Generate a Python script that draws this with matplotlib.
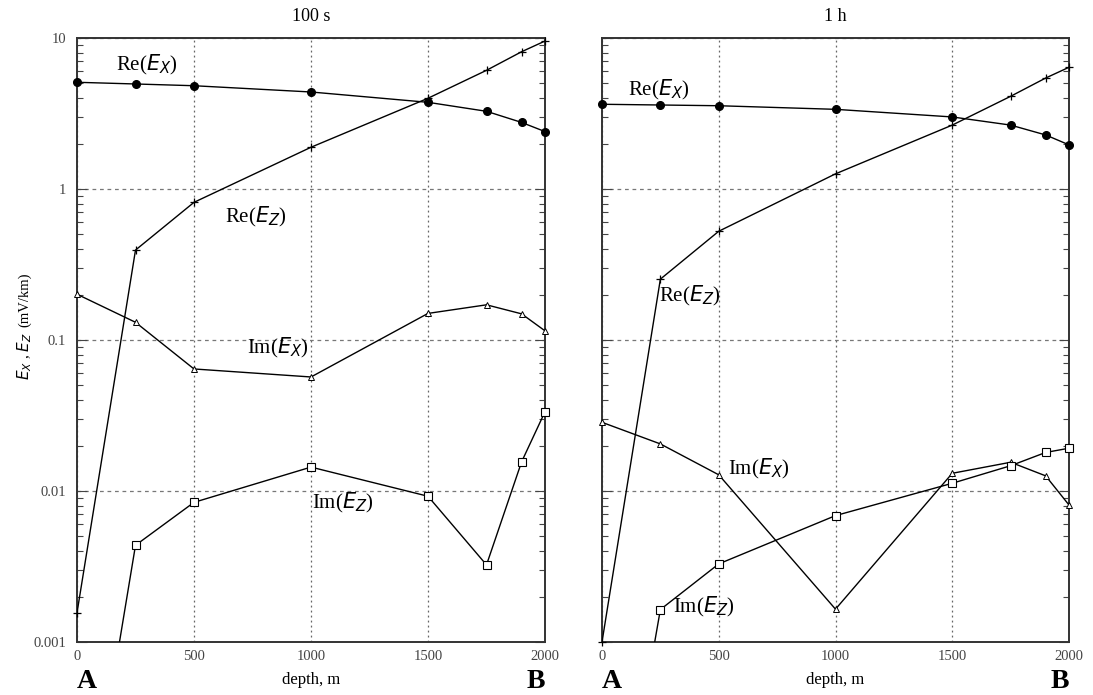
import matplotlib
matplotlib.use("Agg")
import matplotlib.pyplot as plt
from matplotlib.ticker import LogLocator, NullFormatter, FixedLocator, FixedFormatter

plt.rcParams['font.family'] = ['Liberation Serif', 'DejaVu Serif']
plt.rcParams['mathtext.fontset'] = 'dejavusans'

# ---- data ----
depth = [0, 250, 500, 1000, 1500, 1750, 1900, 2000]

# 100 s panel
re_ex_100 = [5.09, 4.96, 4.83, 4.39, 3.75, 3.27, 2.76, 2.40]
re_ez_100 = [0.00156, 0.394, 0.816, 1.89, 3.99, 6.11, 8.11, 9.55]
im_ex_100 = [0.201, 0.131, 0.0643, 0.0569, 0.150, 0.171, 0.149, 0.115]
im_ez_100 = [2e-5, 0.00437, 0.00841, 0.0144, 0.00923, 0.00324, 0.0156, 0.0335]

# 1 h panel
re_ex_1h = [3.64, 3.60, 3.56, 3.37, 3.00, 2.65, 2.28, 1.96]
re_ez_1h = [0.001, 0.253, 0.525, 1.26, 2.65, 4.11, 5.43, 6.40]
im_ex_1h = [0.0285, 0.0205, 0.0128, 0.00165, 0.0131, 0.0155, 0.0126, 0.00808]
im_ez_1h = [1e-5, 0.00164, 0.00329, 0.00687, 0.01125, 0.0147, 0.0180, 0.0192]

xticks = [0, 500, 1000, 1500, 2000]
xtick_labels = ['0', '500', '1000', '1500', '2000']
yticks = [0.001, 0.01, 0.1, 1, 10]
ytick_labels = ['0.001', '0.01', '0.1', '1', '10']

titles = ['100 s', '1 h']

fig = plt.figure(figsize=(10.93, 6.95), dpi=100)
ax1 = fig.add_axes([77/1093, 1-642/695, 468/1093, 604/695])
ax2 = fig.add_axes([602/1093, 1-642/695, 467/1093, 604/695])

def style(ax, show_ylabels):
    ax.set_yscale('log')
    ax.set_xlim(0, 2000)
    ax.set_ylim(0.001, 10)
    ax.xaxis.set_major_locator(FixedLocator(xticks))
    ax.xaxis.set_major_formatter(FixedFormatter(xtick_labels))
    ax.yaxis.set_major_locator(FixedLocator(yticks))
    if show_ylabels:
        ax.yaxis.set_major_formatter(FixedFormatter(ytick_labels))
    else:
        ax.yaxis.set_major_formatter(NullFormatter())
    ax.yaxis.set_minor_locator(LogLocator(base=10, subs=range(2, 10), numticks=20))
    ax.yaxis.set_minor_formatter(NullFormatter())
    ax.tick_params(axis='y', which='both', direction='in', left=True, right=True,
                   colors='#444444', labelsize=10.5, width=0.8, pad=8)
    ax.tick_params(axis='y', which='major', length=7)
    ax.tick_params(axis='y', which='minor', length=4)
    ax.tick_params(axis='x', which='both', length=0, labelsize=10.5,
                   colors='#444444', pad=6)
    for sp in ax.spines.values():
        sp.set_color('#333333')
        sp.set_linewidth(1.4)
    ax.xaxis.grid(True, linestyle=(0, (1.5, 2.5)), color='#666666', linewidth=0.9)
    ax.yaxis.grid(True, which='major', linestyle=(0, (3, 3)), color='#777777', linewidth=0.9)
    ax.set_axisbelow(True)

def series(ax, ex_re, ez_re, ex_im, ez_im):
    specs = [
        (ex_re, dict(marker='o', markersize=5.5, markerfacecolor='black', markeredgecolor='black')),
        (ez_re, dict(marker='+', markersize=6, markeredgewidth=0.9, markeredgecolor='black')),
        (ex_im, dict(marker='^', markersize=5, markerfacecolor='white',
                     markeredgewidth=0.7, markeredgecolor='black')),
        (ez_im, dict(marker='s', markersize=5.5, markerfacecolor='white',
                     markeredgewidth=0.8, markeredgecolor='black')),
    ]
    for vals, mk in specs:
        ax.plot(depth, vals, color='black', linewidth=1.0, zorder=3)
        xs = [d for d, v in zip(depth, vals) if 0.00099 <= v <= 10.01]
        ys = [v for v in vals if 0.00099 <= v <= 10.01]
        ax.plot(xs, ys, linestyle='none', clip_on=False, zorder=4, **mk)

style(ax1, True)
style(ax2, False)
series(ax1, re_ex_100, re_ez_100, im_ex_100, im_ez_100)
series(ax2, re_ex_1h, re_ez_1h, im_ex_1h, im_ez_1h)

lab = dict(ha='left', va='center', fontsize=15)
ax1.text(167, 6.6, 'Re($E_X$)', **lab)
ax1.text(632, 0.653, 'Re($E_Z$)', **lab)
ax1.text(726, 0.0885, 'Im($E_X$)', **lab)
ax1.text(1004, 0.0083, 'Im($E_Z$)', **lab)

ax2.text(111, 4.5, 'Re($E_X$)', **lab)
ax2.text(244, 0.195, 'Re($E_Z$)', **lab)
ax2.text(540, 0.014, 'Im($E_X$)', **lab)
ax2.text(304, 0.0017, 'Im($E_Z$)', **lab)

for ax, t in zip([ax1, ax2], titles):
    ax.set_title(t, fontsize=13, pad=12)
    ax.set_xlabel('depth, m', fontsize=12, labelpad=6)
    ax.text(0, -0.076, 'A', transform=ax.transAxes, fontsize=20, fontweight='bold',
            ha='left', va='baseline')
    ax.text(1, -0.076, 'B', transform=ax.transAxes, fontsize=20, fontweight='bold',
            ha='right', va='baseline')

# y-axis label
fig.text(25/1093, 1-380/695, '$E_X$ , $E_Z$', rotation=90, ha='center', va='bottom',
         fontsize=11)
fig.text(25/1093, 1-272/695, '(mV/km)', rotation=90, ha='center', va='top',
         fontsize=10.5)

fig.savefig('out.png', dpi=100)
